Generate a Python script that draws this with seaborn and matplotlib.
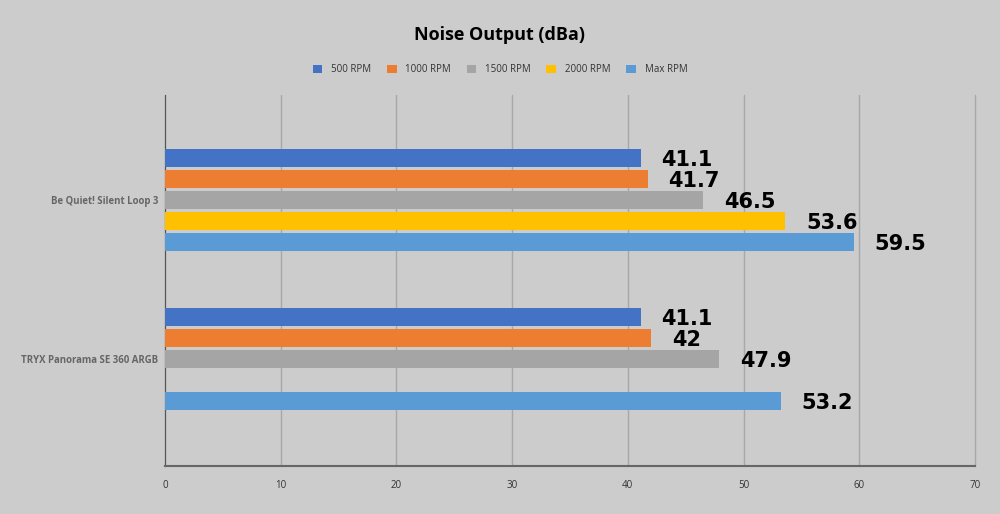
import matplotlib
matplotlib.use("Agg")
import matplotlib.pyplot as plt
import seaborn as sns
import pandas as pd
import numpy as np

coolers = ["Be Quiet! Silent Loop 3", "TRYX Panorama SE 360 ARGB"]
speeds = ["500 RPM", "1000 RPM", "1500 RPM", "2000 RPM", "Max RPM"]
silent_loop = [41.1, 41.7, 46.5, 53.6, 59.5]
tryx = [41.1, 42.0, 47.9, np.nan, 53.2]
label_text_silent = ["41.1", "41.7", "46.5", "53.6", "59.5"]
label_text_tryx = ["41.1", "42", "47.9", "", "53.2"]
colors = ["#4472C4", "#ED7D31", "#A5A5A5", "#FFC000", "#5B9BD5"]

rows = []
for vals, name in [(silent_loop, coolers[0]), (tryx, coolers[1])]:
    for s, v in zip(speeds, vals):
        if not np.isnan(v):
            rows.append({"cooler": name, "speed": s, "dBa": v})
df = pd.DataFrame(rows)

bg = "#cccccc"
sns.set_style("white")
plt.rcParams["font.family"] = ["Open Sans", "DejaVu Sans"]

fig = plt.figure(figsize=(10, 5.14), dpi=100, facecolor=bg)
ax = fig.add_axes([0.165, 0.0934, 0.81, 0.7216])
ax.set_facecolor(bg)

sns.barplot(data=df, y="cooler", x="dBa", hue="speed", order=coolers,
            hue_order=speeds, palette=colors, orient="h", width=0.66,
            gap=0.14, dodge=True, ax=ax, legend=True, errorbar=None,
            saturation=1, edgecolor="none", linewidth=0, zorder=3)

ax.set_xlim(0, 70)
ax.set_ylim(1.673, -0.66)
ax.set_xticks(range(0, 71, 10))
ax.grid(axis="x", color="#a8a8a8", linewidth=1, zorder=0)
for gl in ax.get_xgridlines():
    gl.set_clip_on(False)
ax.grid(axis="y", visible=False)
for sp in ["top", "right"]:
    ax.spines[sp].set_visible(False)
ax.spines["left"].set_color("#555555")
ax.spines["bottom"].set_color("#666666")
ax.spines["bottom"].set_linewidth(1.5)
ax.tick_params(axis="x", direction="inout", length=8, width=0.8, color="#222222",
               labelsize=7, labelcolor="#333333", pad=6)
ax.tick_params(axis="y", length=0, pad=5)
for t in ax.get_yticklabels():
    t.set_fontsize(6.9)
    t.set_fontweight("bold")
    t.set_color("#666666")
ax.set_xlabel("")
ax.set_ylabel("")

# value labels
for ci, container in enumerate(ax.containers):
    for bar in container:
        yc = bar.get_y() + bar.get_height() / 2
        idx = int(round(yc))
        lab = label_text_silent[ci] if idx == 0 else label_text_tryx[ci]
        if lab == "":
            continue
        ax.annotate(lab, xy=(bar.get_width(), yc),
                    xytext=(21, -2), textcoords="offset pixels",
                    ha="left", va="center", fontsize=15, fontweight="bold",
                    family="DejaVu Sans", color="black", zorder=5)

leg = ax.get_legend()
handles = leg.legend_handles
leg.remove()
fig.legend(handles, speeds, loc="center", bbox_to_anchor=(0.5, 0.864), ncol=5,
           frameon=False, fontsize=7, handlelength=1.0, handleheight=1.0,
           handletextpad=0.9, columnspacing=1.6, labelcolor="#333333")

fig.text(0.5, 0.932, "Noise Output (dBa)", ha="center", va="center",
         fontsize=13, fontweight="bold", color="black")

fig.savefig("out.png", dpi=100, facecolor=bg)
